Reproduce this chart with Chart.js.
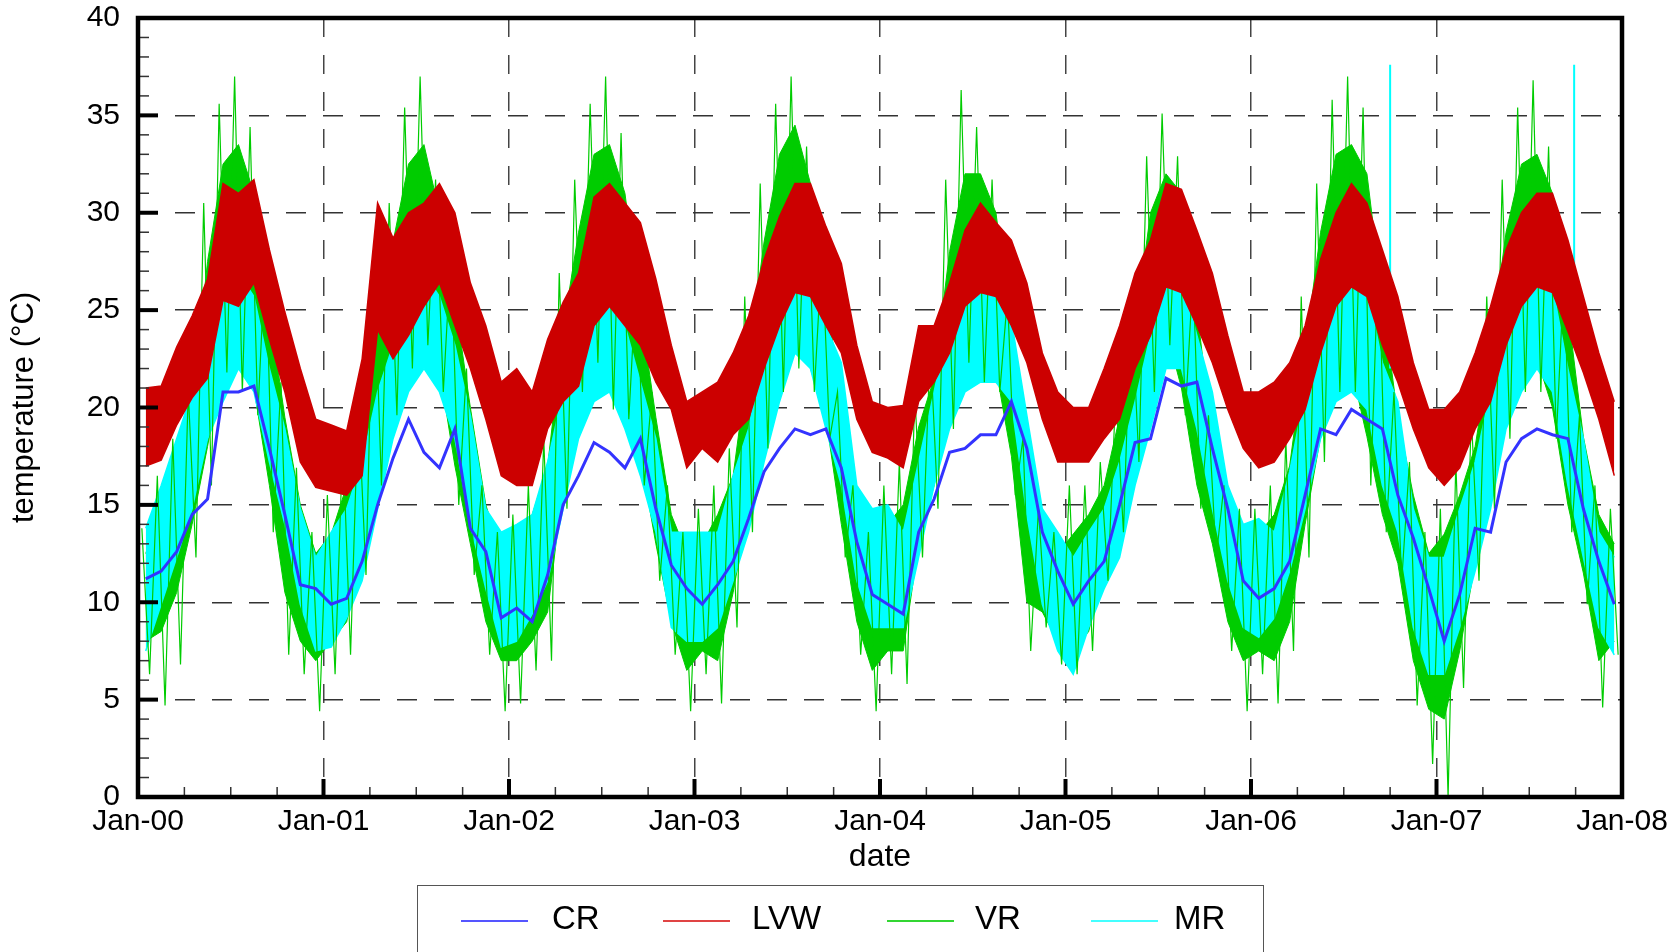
<!DOCTYPE html>
<html>
<head>
<meta charset="utf-8">
<script src="https://cdn.jsdelivr.net/npm/chart.js@4.4.1/dist/chart.umd.min.js"></script>
<style>
  html, body { margin: 0; padding: 0; background: #fff; }
  #wrap { position: relative; width: 1671px; height: 952px; overflow: hidden; }
  #legend { position: absolute; left: 417px; top: 885px; width: 847px; height: 90px;
            border: 1.5px solid #555; box-sizing: border-box;
            font-family: "Liberation Sans", Arial, sans-serif; font-size: 33px; color: #000; }
  .sw { position: absolute; top: 34px; width: 67px; height: 2px; }
  .lb { position: absolute; top: 12px; line-height: 40px; }
</style>
</head>
<body>
<div id="wrap">
  <canvas id="chart" width="1671" height="952"></canvas>
  <div id="legend">
    <div class="sw" style="left:43px;background:#5555ff"></div><div class="lb" style="left:134px">CR</div>
    <div class="sw" style="left:245px;background:#e04444"></div><div class="lb" style="left:334px">LVW</div>
    <div class="sw" style="left:469px;background:#33d633"></div><div class="lb" style="left:557px">VR</div>
    <div class="sw" style="left:673px;background:#44ffff"></div><div class="lb" style="left:756px">MR</div>
  </div>
</div>
<script>
// monthly values, Jan 2000 .. Dec 2007 (one row per year)
const years = ['00', '01', '02', '03', '04', '05', '06', '07', '08'];
const xTickLabels = years.map(y => 'Jan-' + y);

// LVW: daily range band (low / high)
const lvwLo = [
  17.0, 17.3, 19.1, 20.5, 21.5, 25.5, 25.2, 26.4, 23.5, 20.8, 17.2, 15.9,
  15.7, 15.5, 16.5, 24.0, 22.5, 23.7, 25.2, 26.4, 24.2, 22.0, 19.4, 16.5,
  16.0, 16.0, 18.9, 20.3, 21.1, 24.2, 25.2, 24.2, 23.2, 21.3, 19.9, 16.9,
  17.9, 17.2, 18.6, 19.4, 22.0, 24.2, 25.9, 25.7, 24.2, 22.8, 19.4, 17.7,
  17.4, 16.9, 20.3, 21.3, 22.8, 25.2, 25.9, 25.7, 24.2, 22.3, 19.4, 17.2,
  17.2, 17.2, 18.4, 19.4, 22.0, 23.7, 26.2, 25.9, 24.2, 22.3, 19.9, 17.9,
  16.9, 17.2, 18.4, 19.9, 22.8, 25.2, 26.2, 25.7, 23.2, 21.3, 18.9, 16.9,
  16.0, 16.9, 18.9, 20.3, 23.2, 25.2, 26.2, 25.9, 23.9, 21.8, 19.4, 16.5
];
const lvwHi = [
  21.0, 21.1, 23.1, 24.7, 26.6, 31.5, 31.0, 31.7, 28.1, 24.9, 22.0, 19.4,
  19.1, 18.8, 22.5, 30.5, 28.7, 30.0, 30.5, 31.5, 30.0, 26.4, 24.2, 21.3,
  22.0, 20.8, 23.5, 25.4, 26.9, 30.8, 31.5, 30.5, 29.5, 26.6, 23.2, 20.3,
  20.8, 21.3, 22.8, 24.7, 27.6, 29.8, 31.5, 31.5, 29.3, 27.4, 23.2, 20.3,
  20.0, 20.1, 24.2, 24.2, 26.4, 29.1, 30.5, 29.5, 28.6, 26.4, 22.8, 20.8,
  20.0, 20.0, 22.0, 24.2, 26.9, 28.6, 31.5, 31.2, 29.1, 26.9, 23.7, 20.8,
  20.8, 21.3, 22.3, 24.2, 27.6, 30.0, 31.5, 30.5, 28.1, 25.7, 22.3, 19.9,
  19.9, 20.8, 22.8, 25.2, 28.1, 30.0, 31.0, 31.0, 28.6, 25.7, 22.8, 20.3
];

// MR: band low / high
const mrLo = [
  7.5, 9.9, 12.3, 14.8, 18.4, 20.3, 22.0, 20.8, 17.2, 14.0, 9.9, 7.5,
  7.7, 9.2, 11.1, 14.8, 18.4, 20.8, 22.0, 20.8, 18.4, 14.0, 10.7, 7.7,
  8.0, 9.4, 11.1, 14.8, 18.4, 20.3, 20.8, 18.9, 16.5, 13.6, 8.7, 8.0,
  8.0, 8.7, 11.1, 13.6, 17.2, 20.3, 22.8, 22.0, 18.9, 16.0, 11.1, 8.7,
  8.7, 8.7, 12.3, 16.0, 18.9, 20.8, 21.3, 21.3, 20.3, 14.5, 9.9, 7.5,
  6.3, 8.7, 10.7, 12.3, 16.0, 18.9, 22.0, 22.0, 18.9, 14.8, 11.1, 8.7,
  8.2, 9.2, 11.6, 14.8, 18.4, 20.3, 20.8, 19.9, 16.0, 13.6, 8.7, 6.3,
  6.3, 8.7, 11.6, 14.8, 18.9, 20.8, 22.0, 20.8, 16.0, 12.3, 8.7, 7.3
];
const mrHi = [
  13.8, 16.0, 18.4, 20.8, 23.2, 26.2, 26.9, 25.7, 22.0, 18.9, 14.8, 12.3,
  13.6, 14.8, 17.2, 20.8, 23.2, 25.2, 26.9, 25.7, 23.2, 19.6, 14.8, 13.6,
  14.0, 14.5, 17.2, 20.8, 24.2, 26.2, 25.2, 24.2, 21.3, 18.4, 13.6, 13.6,
  13.6, 13.6, 16.5, 18.9, 22.8, 26.2, 27.6, 26.9, 24.2, 22.3, 16.0, 14.8,
  15.0, 13.6, 17.2, 20.8, 24.5, 25.7, 27.1, 26.4, 24.5, 19.6, 14.8, 13.6,
  12.3, 13.6, 14.8, 17.2, 20.3, 23.7, 26.6, 26.6, 23.7, 20.8, 16.0, 14.0,
  14.3, 13.6, 16.7, 20.8, 23.7, 26.4, 26.9, 26.2, 22.3, 20.3, 14.8, 12.3,
  12.3, 14.8, 17.2, 20.8, 23.7, 26.2, 26.9, 26.2, 22.0, 18.4, 13.6, 12.3
];
// MR: two isolated spikes (time in years, value)
const mrSpikeT = [6.75, 6.75, 7.742, 7.742];
const mrSpikeV = [22.0, 37.6, 24.0, 37.6];

// VR: monthly spike maxima / minima
const vrHi = [
  13.8, 16.5, 18.4, 20.8, 30.5, 35.6, 37.0, 34.4, 28.1, 21.3, 16.9, 13.6,
  15.5, 18.4, 20.3, 28.1, 30.5, 35.4, 37.0, 31.7, 28.1, 22.0, 16.0, 13.6,
  14.5, 16.0, 18.4, 26.9, 31.7, 35.6, 37.0, 34.1, 26.9, 20.8, 16.0, 13.6,
  14.8, 16.0, 17.9, 25.7, 31.5, 35.6, 37.0, 33.4, 28.1, 20.8, 16.0, 13.6,
  16.0, 17.2, 20.8, 23.2, 31.7, 36.3, 34.4, 31.7, 25.7, 18.4, 14.8, 13.6,
  16.0, 16.0, 17.2, 20.8, 25.7, 32.9, 35.1, 32.9, 26.9, 19.6, 16.0, 14.8,
  14.8, 16.0, 18.4, 25.7, 31.5, 35.8, 37.0, 35.4, 28.1, 20.8, 17.2, 13.6,
  14.8, 17.2, 19.6, 25.7, 31.7, 35.4, 36.8, 33.4, 26.9, 19.6, 16.0, 14.8
];
const vrLo = [
  6.3, 4.7, 6.8, 12.3, 16.0, 21.8, 20.8, 19.6, 13.6, 7.3, 6.3, 4.4,
  6.3, 7.3, 11.4, 16.0, 19.6, 22.0, 23.2, 20.8, 15.0, 11.4, 7.3, 4.4,
  4.8, 6.5, 7.0, 14.8, 20.8, 22.3, 19.9, 19.4, 16.0, 11.1, 7.3, 4.4,
  6.3, 4.8, 8.7, 13.6, 17.9, 20.8, 22.0, 20.8, 18.4, 12.3, 7.3, 4.4,
  6.3, 5.8, 12.3, 14.8, 18.9, 22.3, 21.3, 20.8, 15.5, 7.5, 8.7, 6.8,
  6.3, 7.5, 11.1, 13.6, 17.2, 20.8, 23.2, 19.6, 14.8, 12.3, 7.5, 4.4,
  6.3, 4.8, 7.5, 12.3, 17.2, 20.8, 20.8, 16.0, 13.6, 11.1, 4.7, 1.7,
  0.0, 5.6, 11.1, 14.8, 18.4, 20.8, 20.8, 18.4, 13.6, 9.9, 4.6, 7.3
];
// VR: dense core of the daily trace (upper / lower edge)
const vrCoreHi = [
  12.5, 15.0, 17.0, 20.0, 27.5, 32.5, 33.5, 31.0, 25.0, 19.5, 15.0, 12.5,
  13.5, 16.0, 19.0, 25.0, 28.5, 32.5, 33.5, 30.0, 25.5, 20.0, 15.0, 12.5,
  13.0, 14.5, 17.0, 24.0, 29.0, 33.0, 33.5, 31.0, 25.0, 19.5, 14.5, 12.5,
  13.0, 14.5, 16.5, 22.5, 28.5, 33.0, 34.5, 31.5, 26.0, 20.0, 15.0, 13.0,
  14.0, 15.0, 19.0, 21.5, 28.0, 32.0, 32.0, 30.0, 24.0, 17.5, 14.0, 12.5,
  13.5, 14.5, 16.0, 19.5, 24.0, 30.0, 32.0, 31.0, 25.0, 18.5, 15.0, 13.0,
  13.5, 14.5, 17.0, 23.0, 29.0, 33.0, 33.5, 32.0, 25.5, 19.5, 15.5, 12.5,
  13.5, 15.5, 18.0, 23.0, 29.0, 32.5, 33.0, 31.0, 25.0, 18.5, 14.5, 13.0
];
const vrCoreLo = [
  8.0, 8.5, 10.5, 14.0, 18.0, 22.5, 22.5, 21.0, 16.0, 10.5, 8.0, 7.0,
  8.0, 9.0, 13.0, 17.5, 21.0, 23.0, 24.0, 22.0, 17.0, 13.0, 9.0, 7.0,
  7.0, 8.0, 9.5, 16.0, 21.5, 23.5, 22.0, 21.0, 17.5, 13.0, 9.0, 6.5,
  7.5, 7.0, 10.5, 15.0, 19.5, 22.0, 23.5, 22.0, 19.5, 14.0, 9.0, 6.5,
  7.5, 7.5, 13.0, 16.0, 20.0, 23.0, 22.5, 22.0, 17.5, 10.0, 9.5, 8.0,
  7.5, 8.5, 12.0, 14.5, 18.5, 22.0, 24.0, 21.0, 16.0, 13.0, 9.0, 7.0,
  7.5, 7.0, 9.0, 14.0, 18.5, 22.0, 22.0, 18.5, 14.5, 12.0, 7.0, 4.5,
  4.0, 7.5, 12.0, 16.0, 19.5, 22.0, 22.5, 20.0, 15.0, 11.5, 7.0, 8.0
];

// CR: monthly level
const cr = [
  11.2, 11.6, 12.6, 14.5, 15.3, 20.8, 20.8, 21.1, 17.9, 14.5, 10.9, 10.7,
  9.9, 10.2, 12.1, 15.0, 17.4, 19.4, 17.7, 16.9, 18.9, 13.8, 12.6, 9.2,
  9.7, 9.0, 11.4, 15.0, 16.5, 18.2, 17.7, 16.9, 18.4, 14.8, 11.9, 10.7,
  9.9, 10.9, 12.1, 14.3, 16.7, 17.9, 18.9, 18.6, 18.9, 16.9, 13.1, 10.4,
  9.9, 9.4, 13.6, 15.3, 17.7, 17.9, 18.6, 18.6, 20.3, 17.9, 13.6, 11.6,
  9.9, 11.1, 12.1, 15.0, 18.2, 18.4, 21.5, 21.1, 21.3, 17.9, 14.8, 11.1,
  10.2, 10.7, 12.1, 15.5, 18.9, 18.6, 19.9, 19.4, 18.9, 15.5, 13.3, 10.7,
  8.0, 10.4, 13.8, 13.6, 17.2, 18.4, 18.9, 18.6, 18.4, 14.8, 12.1, 9.9
];

const FONT = '"Liberation Sans", Arial, sans-serif';
const RED = '#cc0000', GREEN = '#00cc00', CYAN = '#00ffff', BLUE = '#3333ff';

// month i -> time in years (mid-month)
const monthly = arr => arr.map((v, i) => ({ x: (i + 0.5) / 12, y: v }));

// VR spikes drawn as alternating max / min within each month
const vrPoints = [];
vrHi.forEach((v, i) => {
  vrPoints.push({ x: (i + 0.25) / 12, y: v });
  vrPoints.push({ x: (i + 0.75) / 12, y: vrLo[i] });
});

const mrSpikes = [
  { x: mrSpikeT[0], y: mrSpikeV[0] }, { x: mrSpikeT[1], y: mrSpikeV[1] },
  { x: 7.2, y: null },
  { x: mrSpikeT[2], y: mrSpikeV[2] }, { x: mrSpikeT[3], y: mrSpikeV[3] }
];

// ticks drawn inward + heavy frame
const frameTicks = {
  id: 'frameTicks',
  afterDraw(chart) {
    const { ctx, chartArea: a, scales: { x, y } } = chart;
    ctx.save();
    for (let v = 1; v < 40; v++) {
      const py = y.getPixelForValue(v);
      const major = v % 5 === 0;
      ctx.lineWidth = major ? 4 : 1.5;
      ctx.strokeStyle = major ? '#000' : '#333';
      ctx.beginPath();
      ctx.moveTo(a.left, py);
      ctx.lineTo(a.left + (major ? 20 : 11), py);
      ctx.stroke();
    }
    for (let q = 1; q < 32; q++) {
      const px = x.getPixelForValue(q / 4);
      const major = q % 4 === 0;
      ctx.lineWidth = major ? 4 : 1.5;
      ctx.strokeStyle = major ? '#000' : '#333';
      ctx.beginPath();
      ctx.moveTo(px, a.bottom);
      ctx.lineTo(px, a.bottom - (major ? 18 : 10));
      ctx.stroke();
    }
    ctx.lineWidth = 4.5;
    ctx.strokeStyle = '#000';
    ctx.strokeRect(a.left, a.top, a.right - a.left, a.bottom - a.top);
    ctx.restore();
  }
};

new Chart(document.getElementById('chart'), {
  type: 'line',
  data: {
    datasets: [
      { label: 'LVW low', data: monthly(lvwLo), borderColor: RED, borderWidth: 1.5, fill: false, order: 0 },
      { label: 'LVW', data: monthly(lvwHi), borderColor: RED, borderWidth: 1.5, backgroundColor: RED, fill: '-1', order: 0 },
      { label: 'CR', data: monthly(cr), borderColor: BLUE, borderWidth: 3, fill: false, order: 1 },
      { label: 'MR spikes', data: mrSpikes, borderColor: CYAN, borderWidth: 2, fill: false, spanGaps: false, order: 2 },
      { label: 'VR', data: vrPoints, borderColor: GREEN, borderWidth: 1.2, fill: false, order: 2 },
      { label: 'MR low', data: monthly(mrLo), borderColor: CYAN, borderWidth: 1.5, fill: false, order: 3 },
      { label: 'MR', data: monthly(mrHi), borderColor: CYAN, borderWidth: 1.5, backgroundColor: CYAN, fill: '-1', order: 3 },
      { label: 'VR core low', data: monthly(vrCoreLo), borderColor: GREEN, borderWidth: 1, fill: false, order: 5 },
      { label: 'VR core', data: monthly(vrCoreHi), borderColor: GREEN, borderWidth: 1, backgroundColor: GREEN, fill: '-1', order: 5 }
    ]
  },
  options: {
    responsive: false,
    animation: false,
    devicePixelRatio: 1,
    layout: { padding: { top: 18, right: 49, left: 0, bottom: 0 } },
    elements: { point: { radius: 0 }, line: { tension: 0 } },
    plugins: { legend: { display: false }, tooltip: { enabled: false } },
    scales: {
      x: {
        type: 'linear', min: 0, max: 8, z: 1,
        afterFit(s) { s.height = 155; s.paddingLeft = 0; s.paddingRight = 0; },
        ticks: {
          stepSize: 1, autoSkip: false, maxRotation: 0, padding: 7, color: '#000',
          font: { family: FONT, size: 30 },
          callback: v => xTickLabels[v]
        },
        grid: {
          drawTicks: false, lineWidth: 1.5,
          color: c => (c.tick && c.tick.value > 0 && c.tick.value < 8) ? '#444' : 'rgba(0,0,0,0)'
        },
        border: { display: false, dash: [19, 18] },
        title: { display: true, text: 'date', color: '#000', font: { family: FONT, size: 32 }, padding: { top: 0, bottom: 76 } }
      },
      y: {
        min: 0, max: 40, z: 1,
        afterFit(s) { s.width = 138; s.paddingTop = 0; s.paddingBottom = 0; },
        ticks: { stepSize: 5, padding: 18, color: '#000', font: { family: FONT, size: 30 } },
        grid: {
          drawTicks: false, lineWidth: 1.5,
          color: c => (c.tick && c.tick.value > 0 && c.tick.value < 40) ? '#333' : 'rgba(0,0,0,0)'
        },
        border: { display: false, dash: [20, 17] },
        title: { display: true, text: 'temperature (°C)', color: '#000', font: { family: FONT, size: 31 }, padding: { top: 6, bottom: 0 } }
      }
    }
  },
  plugins: [frameTicks]
});
</script>
</body>
</html>
